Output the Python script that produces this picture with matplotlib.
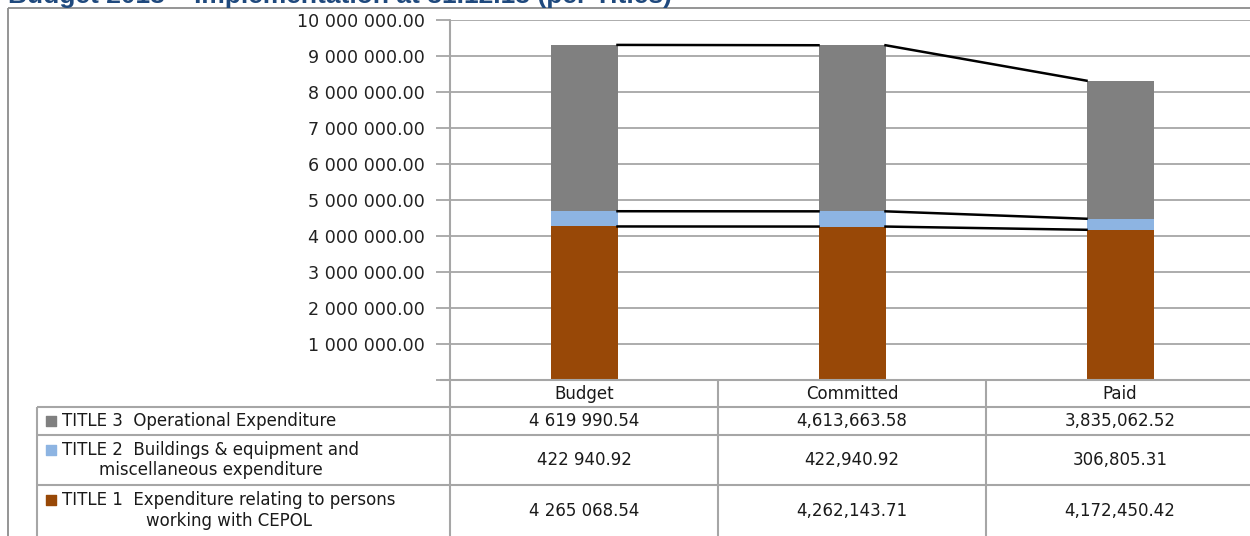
import numpy as np
import matplotlib.pyplot as plt
from matplotlib.ticker import FuncFormatter, MultipleLocator

categories = ['Budget', 'Committed', 'Paid']
title1 = [4265068.54, 4262143.71, 4172450.42]
title2 = [422940.92, 422940.92, 306805.31]
title3 = [4619990.54, 4613663.58, 3835062.52]

# texts of the data table, as printed in the source
title3_txt = ['4 619 990.54', '4,613,663.58', '3,835,062.52']
title2_txt = ['422 940.92', '422,940.92', '306,805.31']
title1_txt = ['4 265 068.54', '4,262,143.71', '4,172,450.42']
row_labels = ['TITLE 3  Operational Expenditure',
              'TITLE 2  Buildings & equipment and\nmiscellaneous expenditure',
              'TITLE 1  Expenditure relating to persons\nworking with CEPOL']

c1 = '#984807'
c2 = '#8db4e2'
c3 = '#808080'
grid_c = '#a6a6a6'

W, H = 1250, 536
fig = plt.figure(figsize=(W/100, H/100), dpi=100)

# main chart area, pixel box x 450..1254, y 20..380
ax = fig.add_axes([450/W, (H-380)/H, 804/W, 360/H])
x = np.arange(len(categories))
bw = 0.25
t1 = np.array(title1)
t2 = np.array(title2)
t3 = np.array(title3)
ax.bar(x, t1, bw, color=c1, zorder=3)
ax.bar(x, t2, bw, bottom=t1, color=c2, zorder=3)
ax.bar(x, t3, bw, bottom=t1+t2, color=c3, zorder=3)

# series lines between bars
for lev in [t1, t1+t2, t1+t2+t3]:
    for i in range(len(x)-1):
        ax.plot([x[i]+bw/2, x[i+1]-bw/2], [lev[i], lev[i+1]], color='black', lw=1.8, zorder=4)

ax.set_xlim(-0.5, 2.5)
ax.set_ylim(0, 10000000)
ax.yaxis.set_major_locator(MultipleLocator(1000000))
ax.yaxis.set_major_formatter(FuncFormatter(
    lambda v, p: '' if v == 0 else f'{v:,.2f}'.replace(',', ' ')))
ax.grid(axis='y', color=grid_c, lw=1.3, zorder=0)
ax.set_xticks([])
ax.tick_params(axis='y', length=10, width=1.3, color=grid_c, labelsize=12.6,
               labelcolor='#222222', pad=8)
for s in ['top', 'right']:
    ax.spines[s].set_visible(False)
ax.spines['left'].set_color(grid_c)
ax.spines['left'].set_linewidth(1.3)
ax.spines['bottom'].set_color(grid_c)
ax.spines['bottom'].set_linewidth(1.3)

# overlay in figure pixels (y measured from top)
ov = fig.add_axes([0, 0, 1, 1], facecolor='none')
ov.set_xlim(0, W)
ov.set_ylim(H, 0)
ov.axis('off')

def hline(x0, x1, y, c=grid_c, lw=1.5):
    ov.plot([x0, x1], [y, y], color=c, lw=lw, solid_capstyle='butt')

def vline(x0, y0, y1, c=grid_c, lw=1.5):
    ov.plot([x0, x0], [y0, y1], color=c, lw=lw, solid_capstyle='butt')

# outer chart frame
hline(8, W, 8, c='#8c8c8c', lw=1.3)
vline(8, 8, H, c='#8c8c8c', lw=1.3)

# title, cut at the top edge
fig.text(8/W, (H-3)/H, 'Budget 2013 \u2013 Implementation at 31.12.13 (per Titles)',
         fontsize=19, fontweight='bold', color='#1f497d', family='Liberation Sans',
         ha='left', va='baseline')

# data table
to_px = lambda xv: ax.transData.transform((xv, 0))[0]
col_edges = [to_px(v) for v in [-0.5, 0.5, 1.5, 2.5]]
centers = [to_px(v) for v in x]
row_y = [380, 407, 435, 485, 536]
tfont = dict(family='DejaVu Sans', fontsize=12, color='#1a1a1a')

hline(440, W, 380)
for yy in row_y[1:4]:
    hline(37, W, yy)
vline(37, 407, H)
for e in col_edges[:3]:
    vline(e, 380, H)
vline(col_edges[0], 20, 380)

for i, c in enumerate(categories):
    ov.text(centers[i], 394, c, ha='center', va='center', **tfont)

rows = [title3_txt, title2_txt, title1_txt]
colors = [c3, c2, c1]
for r in range(3):
    yc = (row_y[r+1] + row_y[r+2]) / 2
    for i in range(3):
        ov.text(centers[i], yc, rows[r][i], ha='center', va='center', **tfont)
    nlines = row_labels[r].count('\n') + 1
    first_y = yc - (nlines - 1) * 10.5
    ov.text(62, yc, row_labels[r], ha='left', va='center', multialignment='center',
            linespacing=1.2, **tfont)
    ov.scatter([51], [first_y], marker='s', s=55, color=colors[r])

fig.savefig('out.png', dpi=100)
